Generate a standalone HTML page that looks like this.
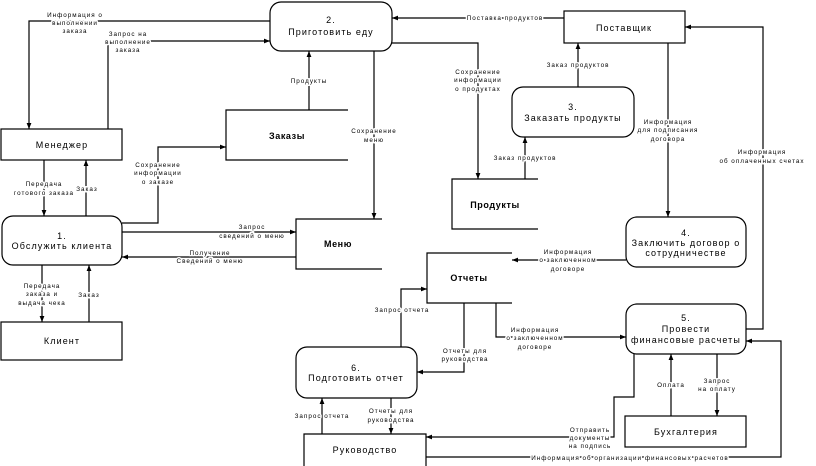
<!DOCTYPE html>
<html><head><meta charset="utf-8"><style>
html,body{margin:0;padding:0;background:#fff;width:816px;height:466px;overflow:hidden}
svg{display:block}
.n{font-family:"Liberation Sans",sans-serif;font-size:9px;letter-spacing:1.1px;fill:#000;text-anchor:middle}
.b{font-family:"Liberation Sans",sans-serif;font-size:9px;font-weight:bold;letter-spacing:0.6px;fill:#000;text-anchor:middle}
.l{font-family:"Liberation Sans",sans-serif;font-size:6.3px;letter-spacing:1px;fill:#000;text-anchor:middle;stroke:#fff;stroke-width:3px;paint-order:stroke;stroke-linejoin:round}
.s{fill:none;stroke:#000;stroke-width:1.2}
</style></head><body>
<svg width="816" height="466" viewBox="0 0 816 466" xmlns="http://www.w3.org/2000/svg">
<defs>
<marker id="a" viewBox="0 0 10 10" refX="10" refY="5" markerWidth="6" markerHeight="6" orient="auto" markerUnits="userSpaceOnUse"><path d="M0,1 L10,5 L0,9 z" fill="#000"/></marker>
</defs>
<g class="s">
<!-- processes -->
<rect x="270" y="2" width="122" height="49" rx="11"/>
<rect x="2" y="216" width="120" height="49" rx="11"/>
<rect x="512" y="87" width="122" height="50" rx="11"/>
<rect x="626" y="217" width="120" height="50" rx="11"/>
<rect x="626" y="304" width="120" height="50" rx="11"/>
<rect x="296" y="347" width="121" height="51" rx="11"/>
<!-- entities -->
<rect x="564" y="11" width="121" height="32"/>
<rect x="1" y="129" width="121" height="31"/>
<rect x="1" y="322" width="121" height="38"/>
<rect x="625" y="416" width="121" height="31"/>
<path d="M304,468 V434 H426 V468"/>
<!-- stores -->
<path d="M348,110 H226 V160 H348"/>
<path d="M382,219 H296 V269 H382"/>
<path d="M538,179 H452 V229 H538"/>
<path d="M512,253 H427 V303 H512"/>
<!-- connectors -->
<path d="M270,21 H29 V129" marker-end="url(#a)"/>
<path d="M108,129 V41 H270" marker-end="url(#a)"/>
<path d="M309,110 V51" marker-end="url(#a)"/>
<path d="M374,51 V219" marker-end="url(#a)"/>
<path d="M122,223 H158 V147 H226" marker-end="url(#a)"/>
<path d="M44,160 V216" marker-end="url(#a)"/>
<path d="M86,216 V160" marker-end="url(#a)"/>
<path d="M122,232 H296" marker-end="url(#a)"/>
<path d="M296,257 H122" marker-end="url(#a)"/>
<path d="M42,265 V322" marker-end="url(#a)"/>
<path d="M89,322 V265" marker-end="url(#a)"/>
<path d="M564,18 H392" marker-end="url(#a)"/>
<path d="M392,43 H478 V179" marker-end="url(#a)"/>
<path d="M578,87 V43" marker-end="url(#a)"/>
<path d="M525,179 V137" marker-end="url(#a)"/>
<path d="M668,43 V217" marker-end="url(#a)"/>
<path d="M746,329 H763 V27 H685" marker-end="url(#a)"/>
<path d="M626,260 H512" marker-end="url(#a)"/>
<path d="M401,347 V289 H427" marker-end="url(#a)"/>
<path d="M464,303 V372 H417" marker-end="url(#a)"/>
<path d="M496,303 V337 H626" marker-end="url(#a)"/>
<path d="M671,416 V354" marker-end="url(#a)"/>
<path d="M717,354 V416" marker-end="url(#a)"/>
<path d="M634,354 V397 H614 V437 H426" marker-end="url(#a)"/>
<path d="M426,457 H781 V341 H746" marker-end="url(#a)"/>
<path d="M322,434 V398" marker-end="url(#a)"/>
<path d="M391,398 V434" marker-end="url(#a)"/>
</g>
<!-- node text -->
<text class="n" x="331" y="23">2.</text><text class="n" x="331" y="35">Приготовить еду</text>
<text class="n" x="624" y="31">Поставщик</text>
<text class="n" x="62" y="148">Менеджер</text>
<text class="b" x="287" y="139">Заказы</text>
<text class="n" x="62" y="239">1.</text><text class="n" x="62" y="249">Обслужить клиента</text>
<text class="b" x="338" y="247">Меню</text>
<text class="n" x="62" y="344">Клиент</text>
<text class="n" x="573" y="110">3.</text><text class="n" x="573" y="121">Заказать продукты</text>
<text class="b" x="495" y="208">Продукты</text>
<text class="n" x="686" y="236">4.</text><text class="n" x="686" y="246">Заключить договор о</text><text class="n" x="686" y="256">сотрудничестве</text>
<text class="b" x="469" y="281">Отчеты</text>
<text class="n" x="686" y="321">5.</text><text class="n" x="686" y="332">Провести</text><text class="n" x="686" y="343">финансовые расчеты</text>
<text class="n" x="356" y="371">6.</text><text class="n" x="356" y="381">Подготовить отчет</text>
<text class="n" x="686" y="435">Бухгалтерия</text>
<text class="n" x="365" y="453">Руководство</text>
<!-- labels -->
<text class="l" x="75" y="17">Информация о</text><text class="l" x="75" y="25">выполнении</text><text class="l" x="75" y="33">заказа</text>
<text class="l" x="128" y="36">Запрос на</text><text class="l" x="128" y="44">выполнение</text><text class="l" x="128" y="52">заказа</text>
<text class="l" x="309" y="83">Продукты</text>
<text class="l" x="374" y="133">Сохранение</text><text class="l" x="374" y="142">меню</text>
<text class="l" x="158" y="167">Сохранение</text><text class="l" x="158" y="175">информации</text><text class="l" x="158" y="184">о заказе</text>
<text class="l" x="44" y="186">Передача</text><text class="l" x="44" y="195">готового заказа</text>
<text class="l" x="87" y="191">Заказ</text>
<text class="l" x="252" y="229">Запрос</text><text class="l" x="252" y="238">сведений о меню</text>
<text class="l" x="210" y="255">Получение</text><text class="l" x="210" y="263">Сведений о меню</text>
<text class="l" x="42" y="288">Передача</text><text class="l" x="42" y="296">заказа и</text><text class="l" x="42" y="305">выдача чека</text>
<text class="l" x="89" y="297">Заказ</text>
<text class="l" x="505" y="20">Поставка продуктов</text>
<text class="l" x="478" y="74">Сохранение</text><text class="l" x="478" y="82">информации</text><text class="l" x="478" y="91">о продуктах</text>
<text class="l" x="578" y="67">Заказ продуктов</text>
<text class="l" x="525" y="160">Заказ продуктов</text>
<text class="l" x="668" y="124">Информация</text><text class="l" x="668" y="132">для подписания</text><text class="l" x="668" y="141">договора</text>
<text class="l" x="762" y="154">Информация</text><text class="l" x="762" y="163">об оплаченных счетах</text>
<text class="l" x="568" y="254">Информация</text><text class="l" x="568" y="262">о заключенном</text><text class="l" x="568" y="271">договоре</text>
<text class="l" x="402" y="312">Запрос отчета</text>
<text class="l" x="465" y="353">Отчеты для</text><text class="l" x="465" y="361">руководства</text>
<text class="l" x="535" y="332">Информация</text><text class="l" x="535" y="340">о заключенном</text><text class="l" x="535" y="349">договоре</text>
<text class="l" x="671" y="387">Оплата</text>
<text class="l" x="717" y="383">Запрос</text><text class="l" x="717" y="391">на оплату</text>
<text class="l" x="590" y="432">Отправить</text><text class="l" x="590" y="440">документы</text><text class="l" x="590" y="448">на подпись</text>
<text class="l" x="630" y="460">Информация об организации финансовых расчетов</text>
<text class="l" x="322" y="418">Запрос отчета</text>
<text class="l" x="391" y="413">Отчеты для</text><text class="l" x="391" y="422">руководства</text>
</svg>
</body></html>
